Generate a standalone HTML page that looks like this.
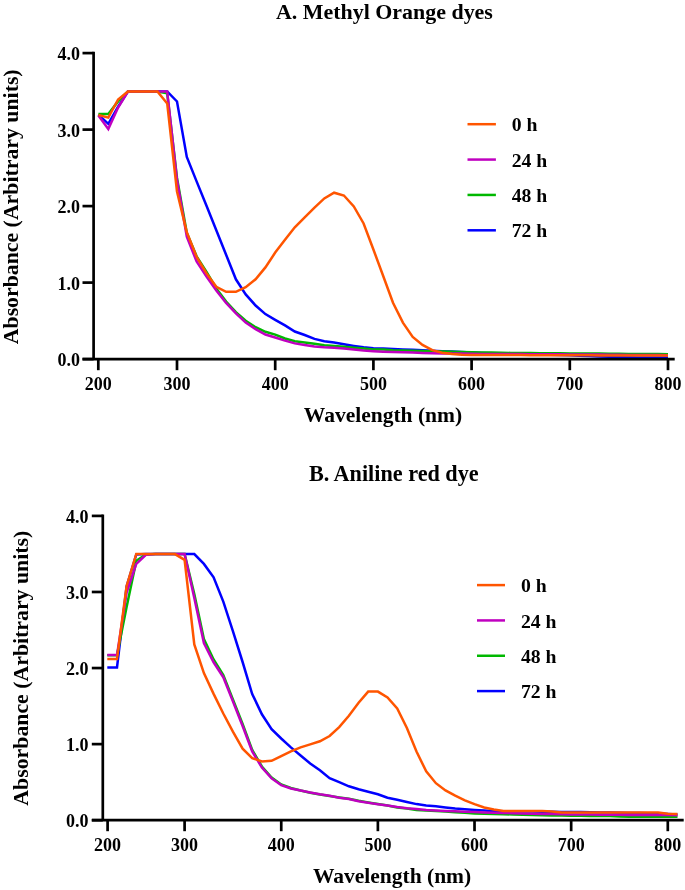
<!DOCTYPE html>
<html><head><meta charset="utf-8"><title>UV-Vis absorbance spectra</title>
<style>html,body{margin:0;padding:0;background:#fff;} body{width:685px;height:890px;overflow:hidden;} svg{display:block;will-change:transform;}</style>
</head><body>
<svg width="685" height="890" viewBox="0 0 685 890">
<rect width="685" height="890" fill="#fff"/>
<polyline points="98.4,114.6 108.3,123.8 118.1,106.7 127.9,91.5 137.7,91.5 147.5,91.5 157.4,91.5 167.2,91.5 177.0,101.5 186.8,157.0 196.6,181.4 206.5,205.8 216.3,230.3 226.1,254.8 235.9,279.3 245.7,294.4 255.6,305.5 265.4,314.1 275.2,319.8 285.0,325.4 294.8,331.5 304.7,335.0 314.5,338.9 324.3,341.2 334.1,342.6 343.9,344.3 353.8,345.9 363.6,347.3 373.4,348.2 383.2,348.5 393.0,349.0 402.9,349.4 412.7,349.8 422.5,350.3 432.3,350.8 442.1,351.2 452.0,351.6 461.8,352.1 471.6,352.6 481.4,352.9 491.2,353.2 501.1,353.4 510.9,353.7 520.7,354.0 530.5,354.3 540.3,354.5 550.2,354.8 560.0,355.0 569.8,355.3 579.6,355.7 589.4,356.0 599.3,356.4 609.1,356.7 618.9,357.0 628.7,357.3 638.5,357.4 648.4,357.5 658.2,357.5 668.0,357.6" fill="none" stroke="#0000FF" stroke-width="2.5" stroke-linejoin="miter" stroke-miterlimit="4"/>
<polyline points="98.4,113.9 108.3,113.9 118.1,101.4 127.9,91.5 137.7,91.5 147.5,91.5 157.4,91.5 167.2,93.3 177.0,178.0 186.8,233.0 196.6,256.3 206.5,272.0 216.3,288.5 226.1,301.6 235.9,312.1 245.7,320.7 255.6,327.2 265.4,331.8 275.2,334.6 285.0,338.5 294.8,341.2 304.7,342.6 314.5,343.8 324.3,345.2 334.1,346.1 343.9,346.8 353.8,347.7 363.6,348.5 373.4,349.4 383.2,349.6 393.0,350.2 402.9,350.5 412.7,350.8 422.5,351.0 432.3,351.3 442.1,351.6 452.0,351.8 461.8,352.1 471.6,352.3 481.4,352.4 491.2,352.6 501.1,352.7 510.9,352.9 520.7,353.0 530.5,353.1 540.3,353.2 550.2,353.2 560.0,353.3 569.8,353.4 579.6,353.5 589.4,353.6 599.3,353.6 609.1,353.7 618.9,353.8 628.7,353.9 638.5,354.0 648.4,354.0 658.2,354.1 668.0,354.2" fill="none" stroke="#00B800" stroke-width="2.5" stroke-linejoin="miter" stroke-miterlimit="4"/>
<polyline points="98.4,115.5 108.3,129.0 118.1,107.5 127.9,91.5 137.7,91.5 147.5,91.5 157.4,91.5 167.2,91.5 177.0,180.0 186.8,236.6 196.6,261.5 206.5,276.6 216.3,290.4 226.1,302.9 235.9,313.4 245.7,322.6 255.6,329.2 265.4,334.5 275.2,337.5 285.0,340.6 294.8,343.4 304.7,345.0 314.5,346.4 324.3,347.3 334.1,347.8 343.9,348.5 353.8,349.4 363.6,350.5 373.4,351.2 383.2,351.7 393.0,352.0 402.9,352.3 412.7,352.6 422.5,352.9 432.3,353.2 442.1,353.4 452.0,353.5 461.8,353.6 471.6,353.8 481.4,353.9 491.2,353.9 501.1,354.0 510.9,354.0 520.7,354.1 530.5,354.2 540.3,354.2 550.2,354.3 560.0,354.3 569.8,354.4 579.6,354.5 589.4,354.6 599.3,354.6 609.1,354.7 618.9,354.8 628.7,354.9 638.5,355.0 648.4,355.0 658.2,355.1 668.0,355.2" fill="none" stroke="#C000C0" stroke-width="2.5" stroke-linejoin="miter" stroke-miterlimit="4"/>
<polyline points="98.4,115.0 108.3,117.6 118.1,99.5 127.9,91.5 137.7,91.5 147.5,91.5 157.4,91.5 167.2,103.4 177.0,191.5 186.8,232.3 196.6,256.9 206.5,273.4 216.3,286.8 226.1,291.8 235.9,291.8 245.7,287.2 255.6,279.3 265.4,267.4 275.2,252.6 285.0,239.8 294.8,227.3 304.7,217.4 314.5,207.6 324.3,198.4 334.1,192.7 343.9,195.5 353.8,206.4 363.6,223.5 373.4,249.5 383.2,276.0 393.0,302.8 402.9,322.6 412.7,337.0 422.5,344.9 432.3,350.1 442.1,352.8 452.0,354.1 461.8,354.7 471.6,355.0 481.4,355.0 491.2,355.1 501.1,355.1 510.9,355.1 520.7,355.1 530.5,355.2 540.3,355.2 550.2,355.2 560.0,355.3 569.8,355.3 579.6,355.3 589.4,355.3 599.3,355.4 609.1,355.4 618.9,355.4 628.7,355.4 638.5,355.4 648.4,355.5 658.2,355.5 668.0,355.5" fill="none" stroke="#FF5500" stroke-width="2.5" stroke-linejoin="miter" stroke-miterlimit="4"/>
<path d="M93.60,51.75 V359.10 M82.50,359.10 H674.70" stroke="#000" stroke-width="2.7" fill="none"/>
<line x1="82.50" y1="359.10" x2="93.60" y2="359.10" stroke="#000" stroke-width="2.7"/>
<text x="80.00" y="366.30" text-anchor="end" font-size="18" font-family="'Liberation Serif', serif" font-weight="bold">0.0</text>
<line x1="82.50" y1="282.60" x2="93.60" y2="282.60" stroke="#000" stroke-width="2.7"/>
<text x="80.00" y="289.80" text-anchor="end" font-size="18" font-family="'Liberation Serif', serif" font-weight="bold">1.0</text>
<line x1="82.50" y1="206.10" x2="93.60" y2="206.10" stroke="#000" stroke-width="2.7"/>
<text x="80.00" y="213.30" text-anchor="end" font-size="18" font-family="'Liberation Serif', serif" font-weight="bold">2.0</text>
<line x1="82.50" y1="129.60" x2="93.60" y2="129.60" stroke="#000" stroke-width="2.7"/>
<text x="80.00" y="136.80" text-anchor="end" font-size="18" font-family="'Liberation Serif', serif" font-weight="bold">3.0</text>
<line x1="82.50" y1="53.10" x2="93.60" y2="53.10" stroke="#000" stroke-width="2.7"/>
<text x="80.00" y="60.30" text-anchor="end" font-size="18" font-family="'Liberation Serif', serif" font-weight="bold">4.0</text>
<line x1="98.30" y1="359.10" x2="98.30" y2="370.20" stroke="#000" stroke-width="2.7"/>
<text x="98.30" y="389.50" text-anchor="middle" font-size="18" font-family="'Liberation Serif', serif" font-weight="bold">200</text>
<line x1="177.00" y1="359.10" x2="177.00" y2="370.20" stroke="#000" stroke-width="2.7"/>
<text x="177.00" y="389.50" text-anchor="middle" font-size="18" font-family="'Liberation Serif', serif" font-weight="bold">300</text>
<line x1="275.20" y1="359.10" x2="275.20" y2="370.20" stroke="#000" stroke-width="2.7"/>
<text x="275.20" y="389.50" text-anchor="middle" font-size="18" font-family="'Liberation Serif', serif" font-weight="bold">400</text>
<line x1="373.40" y1="359.10" x2="373.40" y2="370.20" stroke="#000" stroke-width="2.7"/>
<text x="373.40" y="389.50" text-anchor="middle" font-size="18" font-family="'Liberation Serif', serif" font-weight="bold">500</text>
<line x1="471.60" y1="359.10" x2="471.60" y2="370.20" stroke="#000" stroke-width="2.7"/>
<text x="471.60" y="389.50" text-anchor="middle" font-size="18" font-family="'Liberation Serif', serif" font-weight="bold">600</text>
<line x1="569.80" y1="359.10" x2="569.80" y2="370.20" stroke="#000" stroke-width="2.7"/>
<text x="569.80" y="389.50" text-anchor="middle" font-size="18" font-family="'Liberation Serif', serif" font-weight="bold">700</text>
<line x1="668.00" y1="359.10" x2="668.00" y2="370.20" stroke="#000" stroke-width="2.7"/>
<text x="668.00" y="389.50" text-anchor="middle" font-size="18" font-family="'Liberation Serif', serif" font-weight="bold">800</text>
<text x="384.45" y="18.50" text-anchor="middle" font-size="21.95" font-family="'Liberation Serif', serif" font-weight="bold">A. Methyl Orange dyes</text>
<text x="383.00" y="421.70" text-anchor="middle" font-size="21.5" font-family="'Liberation Serif', serif" font-weight="bold">Wavelength (nm)</text>
<text transform="translate(18.35,206.80) rotate(-90)" x="0" y="0" text-anchor="middle" font-size="21.8" font-family="'Liberation Serif', serif" font-weight="bold">Absorbance (Arbitrary units)</text>
<line x1="467.50" y1="124.20" x2="495.90" y2="124.20" stroke="#FF5500" stroke-width="2.5"/>
<text x="511.70" y="131.20" font-size="19.7" font-family="'Liberation Serif', serif" font-weight="bold">0 h</text>
<line x1="467.50" y1="159.57" x2="495.90" y2="159.57" stroke="#C000C0" stroke-width="2.5"/>
<text x="511.70" y="166.57" font-size="19.7" font-family="'Liberation Serif', serif" font-weight="bold">24 h</text>
<line x1="467.50" y1="194.94" x2="495.90" y2="194.94" stroke="#00B800" stroke-width="2.5"/>
<text x="511.70" y="201.94" font-size="19.7" font-family="'Liberation Serif', serif" font-weight="bold">48 h</text>
<line x1="467.50" y1="230.31" x2="495.90" y2="230.31" stroke="#0000FF" stroke-width="2.5"/>
<text x="511.70" y="237.31" font-size="19.7" font-family="'Liberation Serif', serif" font-weight="bold">72 h</text>
<polyline points="107.3,667.4 117.0,667.4 126.6,586.5 136.3,554.5 145.9,554.1 155.6,554.1 165.3,554.1 174.9,554.1 184.6,554.1 194.3,554.1 203.9,563.9 213.6,577.3 223.3,601.6 232.9,631.2 242.6,662.0 252.2,694.0 261.9,714.3 271.6,729.1 281.2,738.5 290.9,747.4 300.6,755.5 310.2,763.5 319.9,770.2 329.6,778.2 339.2,782.2 348.9,786.3 358.6,789.2 368.2,791.8 377.9,794.3 387.5,797.7 397.2,799.7 406.9,802.0 416.5,804.1 426.2,805.5 435.9,806.2 445.5,807.5 455.2,808.6 464.9,809.2 474.5,809.9 484.2,810.4 493.8,811.2 503.5,811.3 513.2,811.4 522.8,811.5 532.5,811.6 542.2,811.7 551.8,811.8 561.5,811.9 571.2,812.0 580.8,812.1 590.5,812.3 600.2,812.5 609.8,812.6 619.5,812.8 629.1,812.9 638.8,813.1 648.5,813.2 658.1,813.6 667.8,814.0 677.5,814.4" fill="none" stroke="#0000FF" stroke-width="2.5" stroke-linejoin="miter" stroke-miterlimit="4"/>
<polyline points="107.3,655.2 117.0,655.2 126.6,607.0 136.3,560.7 145.9,554.5 155.6,554.1 165.3,554.1 174.9,554.1 184.6,554.1 194.3,594.0 203.9,639.0 213.6,659.5 223.3,675.0 232.9,699.5 242.6,724.0 252.2,750.0 261.9,766.5 271.6,777.5 281.2,784.5 290.9,788.0 300.6,790.5 310.2,792.7 319.9,794.6 329.6,796.0 339.2,797.5 348.9,798.8 358.6,800.8 368.2,802.5 377.9,804.0 387.5,805.5 397.2,807.4 406.9,808.6 416.5,809.9 426.2,810.5 435.9,811.1 445.5,811.6 455.2,812.2 464.9,812.8 474.5,813.4 484.2,813.7 493.8,814.0 503.5,814.2 513.2,814.5 522.8,814.8 532.5,815.0 542.2,815.2 551.8,815.4 561.5,815.6 571.2,815.8 580.8,815.8 590.5,815.9 600.2,816.0 609.8,816.0 619.5,816.4 629.1,816.7 638.8,816.7 648.5,816.7 658.1,816.8 667.8,816.8 677.5,816.8" fill="none" stroke="#00B800" stroke-width="2.5" stroke-linejoin="miter" stroke-miterlimit="4"/>
<polyline points="107.3,655.1 117.0,655.1 126.6,592.5 136.3,563.9 145.9,554.8 155.6,554.1 165.3,554.1 174.9,554.1 184.6,554.1 194.3,598.0 203.9,643.0 213.6,662.3 223.3,677.2 232.9,701.4 242.6,726.0 252.2,751.4 261.9,767.6 271.6,778.4 281.2,785.1 290.9,788.5 300.6,790.5 310.2,792.5 319.9,794.3 329.6,795.8 339.2,797.7 348.9,799.1 358.6,801.3 368.2,802.8 377.9,804.2 387.5,805.5 397.2,807.0 406.9,808.2 416.5,808.9 426.2,810.1 435.9,810.5 445.5,810.9 455.2,811.3 464.9,811.7 474.5,812.1 484.2,812.4 493.8,812.7 503.5,812.9 513.2,813.2 522.8,813.5 532.5,813.7 542.2,813.9 551.8,814.1 561.5,814.3 571.2,814.5 580.8,814.6 590.5,814.6 600.2,814.7 609.8,814.8 619.5,814.8 629.1,814.9 638.8,814.9 648.5,815.0 658.1,815.1 667.8,815.1 677.5,815.2" fill="none" stroke="#C000C0" stroke-width="2.5" stroke-linejoin="miter" stroke-miterlimit="4"/>
<polyline points="107.3,658.9 117.0,658.9 126.6,585.9 136.3,554.0 145.9,554.1 155.6,554.1 165.3,554.1 174.9,554.1 184.6,559.8 194.3,644.4 203.9,673.1 213.6,693.9 223.3,713.5 232.9,731.7 242.6,748.7 252.2,758.1 261.9,761.5 271.6,760.8 281.2,756.1 290.9,751.4 300.6,747.4 310.2,744.4 319.9,741.3 329.6,736.0 339.2,727.1 348.9,715.7 358.6,702.8 368.2,691.6 377.9,691.6 387.5,697.4 397.2,708.4 406.9,728.0 416.5,751.5 426.2,771.4 435.9,783.2 445.5,790.4 455.2,795.7 464.9,800.3 474.5,804.2 484.2,807.5 493.8,809.5 503.5,811.0 513.2,811.0 522.8,811.0 532.5,811.1 542.2,811.1 551.8,811.5 561.5,812.4 571.2,812.4 580.8,812.4 590.5,812.5 600.2,812.5 609.8,812.5 619.5,812.5 629.1,812.5 638.8,812.6 648.5,812.6 658.1,812.6 667.8,813.8 677.5,814.0" fill="none" stroke="#FF5500" stroke-width="2.5" stroke-linejoin="miter" stroke-miterlimit="4"/>
<path d="M102.80,514.55 V820.20 M91.80,820.20 H683.70" stroke="#000" stroke-width="2.7" fill="none"/>
<line x1="91.80" y1="820.20" x2="102.80" y2="820.20" stroke="#000" stroke-width="2.7"/>
<text x="88.40" y="827.40" text-anchor="end" font-size="18" font-family="'Liberation Serif', serif" font-weight="bold">0.0</text>
<line x1="91.80" y1="744.12" x2="102.80" y2="744.12" stroke="#000" stroke-width="2.7"/>
<text x="88.40" y="751.33" text-anchor="end" font-size="18" font-family="'Liberation Serif', serif" font-weight="bold">1.0</text>
<line x1="91.80" y1="668.05" x2="102.80" y2="668.05" stroke="#000" stroke-width="2.7"/>
<text x="88.40" y="675.25" text-anchor="end" font-size="18" font-family="'Liberation Serif', serif" font-weight="bold">2.0</text>
<line x1="91.80" y1="591.98" x2="102.80" y2="591.98" stroke="#000" stroke-width="2.7"/>
<text x="88.40" y="599.18" text-anchor="end" font-size="18" font-family="'Liberation Serif', serif" font-weight="bold">3.0</text>
<line x1="91.80" y1="515.90" x2="102.80" y2="515.90" stroke="#000" stroke-width="2.7"/>
<text x="88.40" y="523.10" text-anchor="end" font-size="18" font-family="'Liberation Serif', serif" font-weight="bold">4.0</text>
<line x1="107.60" y1="820.20" x2="107.60" y2="831.20" stroke="#000" stroke-width="2.7"/>
<text x="107.60" y="850.50" text-anchor="middle" font-size="18" font-family="'Liberation Serif', serif" font-weight="bold">200</text>
<line x1="184.60" y1="820.20" x2="184.60" y2="831.20" stroke="#000" stroke-width="2.7"/>
<text x="184.60" y="850.50" text-anchor="middle" font-size="18" font-family="'Liberation Serif', serif" font-weight="bold">300</text>
<line x1="281.24" y1="820.20" x2="281.24" y2="831.20" stroke="#000" stroke-width="2.7"/>
<text x="281.24" y="850.50" text-anchor="middle" font-size="18" font-family="'Liberation Serif', serif" font-weight="bold">400</text>
<line x1="377.88" y1="820.20" x2="377.88" y2="831.20" stroke="#000" stroke-width="2.7"/>
<text x="377.88" y="850.50" text-anchor="middle" font-size="18" font-family="'Liberation Serif', serif" font-weight="bold">500</text>
<line x1="474.52" y1="820.20" x2="474.52" y2="831.20" stroke="#000" stroke-width="2.7"/>
<text x="474.52" y="850.50" text-anchor="middle" font-size="18" font-family="'Liberation Serif', serif" font-weight="bold">600</text>
<line x1="571.16" y1="820.20" x2="571.16" y2="831.20" stroke="#000" stroke-width="2.7"/>
<text x="571.16" y="850.50" text-anchor="middle" font-size="18" font-family="'Liberation Serif', serif" font-weight="bold">700</text>
<line x1="667.80" y1="820.20" x2="667.80" y2="831.20" stroke="#000" stroke-width="2.7"/>
<text x="667.80" y="850.50" text-anchor="middle" font-size="18" font-family="'Liberation Serif', serif" font-weight="bold">800</text>
<text x="393.80" y="480.90" text-anchor="middle" font-size="22.2" font-family="'Liberation Serif', serif" font-weight="bold">B. Aniline red dye</text>
<text x="392.05" y="882.80" text-anchor="middle" font-size="21.5" font-family="'Liberation Serif', serif" font-weight="bold">Wavelength (nm)</text>
<text transform="translate(27.90,668.20) rotate(-90)" x="0" y="0" text-anchor="middle" font-size="21.8" font-family="'Liberation Serif', serif" font-weight="bold">Absorbance (Arbitrary units)</text>
<line x1="477.00" y1="585.10" x2="505.00" y2="585.10" stroke="#FF5500" stroke-width="2.5"/>
<text x="521.00" y="592.20" font-size="19.7" font-family="'Liberation Serif', serif" font-weight="bold">0 h</text>
<line x1="477.00" y1="620.43" x2="505.00" y2="620.43" stroke="#C000C0" stroke-width="2.5"/>
<text x="521.00" y="627.53" font-size="19.7" font-family="'Liberation Serif', serif" font-weight="bold">24 h</text>
<line x1="477.00" y1="655.76" x2="505.00" y2="655.76" stroke="#00B800" stroke-width="2.5"/>
<text x="521.00" y="662.86" font-size="19.7" font-family="'Liberation Serif', serif" font-weight="bold">48 h</text>
<line x1="477.00" y1="691.09" x2="505.00" y2="691.09" stroke="#0000FF" stroke-width="2.5"/>
<text x="521.00" y="698.19" font-size="19.7" font-family="'Liberation Serif', serif" font-weight="bold">72 h</text>
</svg>
</body></html>
